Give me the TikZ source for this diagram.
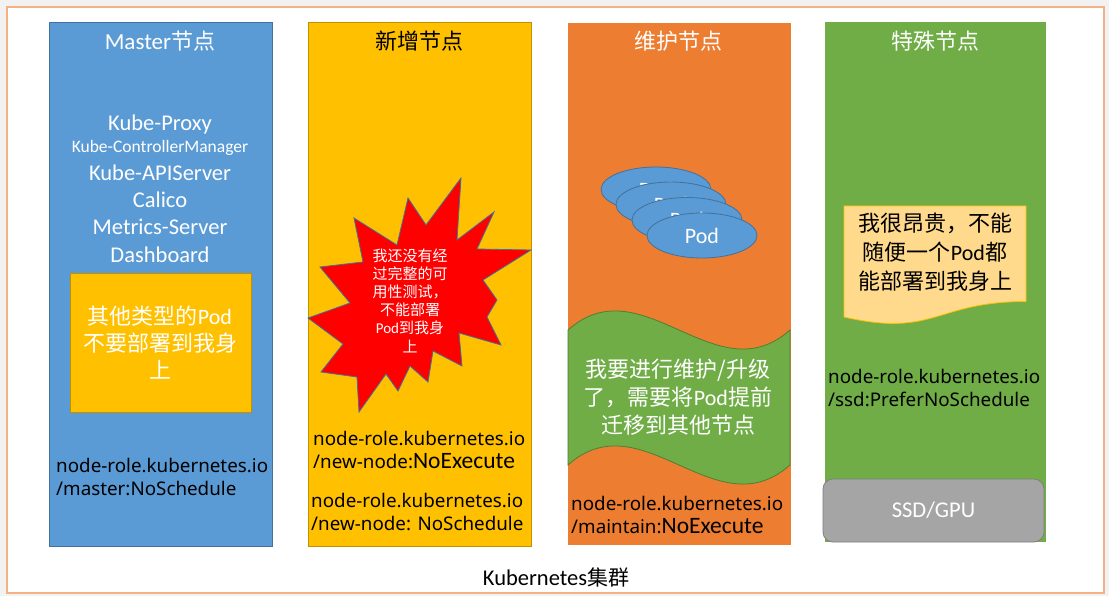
\documentclass[tikz,border=0pt]{standalone}
\usepackage{fontspec}
\usetikzlibrary{shapes.geometric}
\setmainfont{Carlito}
\newfontfamily\cjk{Noto Sans CJK SC}
\newfontfamily\dxf{Noto Sans}
\definecolor{mblue}{HTML}{5B9BD5}
\definecolor{mblueb}{HTML}{41719C}
\definecolor{myel}{HTML}{FFC000}
\definecolor{myelb}{HTML}{BF9000}
\definecolor{morg}{HTML}{ED7D31}
\definecolor{mgrn}{HTML}{70AD47}
\definecolor{mgrnb}{HTML}{507E32}
\definecolor{mgray}{HTML}{A5A5A5}
\definecolor{mgrayb}{HTML}{7F7F7F}
\definecolor{mnote}{HTML}{FFD98C}
\definecolor{mframe}{HTML}{F4B183}
\definecolor{mbg}{HTML}{F2F2F2}
\tikzset{
  colbox/.style={line width=0.8pt},
  ttl/.style={inner sep=0pt, font=\cjk\fontsize{22}{26}\selectfont},
  svc/.style={inner sep=0pt, text=white, font=\fontsize{22.5}{26}\selectfont},
  big/.style={inner sep=0pt, align=center, font=\cjk\fontsize{22}{27}\selectfont},
  taint/.style={inner sep=0pt, anchor=west, align=left, text=black, font=\dxf\fontsize{18.8}{23}\selectfont},
}
\newcommand{\calfnt}[1]{{\rmfamily\fontsize{23.5}{23}\selectfont #1}}
\begin{document}
\begin{tikzpicture}[x=1pt,y=-1pt]
\useasboundingbox (0,0) rectangle (1109,596);
\fill[mbg] (0,0) rectangle (1109,596);
\draw[mframe, fill=white, line width=2pt] (7,7) rectangle (1104,593);

% columns
\draw[colbox, fill=mblue, draw=mblueb] (49,22) rectangle (272,546);
\draw[colbox, fill=myel, draw=myelb] (308,22) rectangle (531,546);
\draw[colbox, fill=morg, draw=morg] (568,23) rectangle (790,544);
\draw[colbox, fill=mgrn, draw=mgrn] (825,22) rectangle (1045,541);

% titles
\node[ttl, text=white] (t1) at (160,41) {{\rmfamily\fontsize{23}{26}\selectfont Master}节点};
\node[ttl, text=black] (t2) at (419,41) {新增节点};
\node[ttl, text=white] (t3) at (678,41) {维护节点};
\node[ttl, text=white] (t4) at (935,41) {特殊节点};

% master services
\node[svc] (s1) at (160,125) {Kube-Proxy};
\node[svc, font=\fontsize{17.5}{20}\selectfont] (s2) at (160,148) {Kube-ControllerManager};
\node[svc] (s3) at (160,173) {Kube-APIServer};
\node[svc] (s4) at (160,200) {Calico};
\node[svc] (s5) at (160,227) {Metrics-Server};
\node[svc] (s6) at (160,255) {Dashboard};

\draw[colbox, fill=myel, draw=myelb] (70,273) rectangle (251,412);
\node[big, text=white] (mb) at (160,343) {其他类型的{\rmfamily Pod}\\不要部署到我身\\上};

\node[taint] (m1) at (56,476.5) {node-role.kubernetes.io\\/master:NoSchedule};

% starburst
\draw[fill=red, draw=mblueb, line width=0.8pt]
 (461,178) -- (457,240) -- (494,212) -- (477,249) -- (531,250) -- (483,280)
 -- (497,300) -- (487,317) -- (501,345) -- (459,333) -- (462,366) -- (433,351)
 -- (428,382) -- (410,366) -- (398,391) -- (386,374) -- (359,412) -- (357,377)
 -- (321,372) -- (343,344) -- (308,318) -- (350,303) -- (320,267) -- (363,262)
 -- (354,218) -- (397,245) -- (408,198) -- (426,225) -- cycle;
\node[inner sep=0pt, align=center, text=white, font=\cjk\fontsize{15}{18.2}\selectfont] (sb) at (410,300.5)
 {我还没有经\\过完整的可\\用性测试，\\不能部署\\{\rmfamily Pod}到我身\\上};

\node[taint] (n1) at (313,450) {node-role.kubernetes.io\\/new-node:\calfnt{NoExecute}};
\node[taint] (n2) at (311,511.5) {node-role.kubernetes.io\\/new-node: NoSchedule};

% pods
\foreach \i/\cx/\cy in {1/656/189.5, 2/671/204.5, 3/687/220, 4/702/235.5}{
  \node[ellipse, minimum width=110pt, minimum height=45pt, inner sep=0pt, fill=mblue, draw=mblueb, line width=0.8pt,
        text=white, font=\fontsize{22}{26}\selectfont] (pod\i) at (\cx,\cy) {Pod};
}

% wave
\draw[fill=mgrn, draw=mgrnb, line width=0.8pt]
 (568,330) .. controls (642,264) and (716,396) .. (790,330)
 -- (790,465) .. controls (716,531) and (642,399) .. (568,465) -- cycle;
\node[big, text=white, font=\cjk\fontsize{22}{28}\selectfont] (wv) at (678,397) {我要进行维护/升级\\了，需要将{\rmfamily Pod}提前\\迁移到其他节点};

\node[taint] (w1) at (571,515) {node-role.kubernetes.io\\/maintain:\calfnt{NoExecute}};

% note
\draw[fill=mnote, draw=myel, line width=0.8pt]
 (844,206) -- (1026,206) -- (1026,301.5) .. controls (935,301.5) and (935,337.8) .. (844,317) -- cycle;
\node[big, text=black, font=\cjk\fontsize{22}{29}\selectfont] (nt) at (935,252) {我很昂贵，不能\\随便一个{\rmfamily Pod}都\\能部署到我身上};

\node[taint] (p1) at (828,387.5) {node-role.kubernetes.io\\/ssd:PreferNoSchedule};

\node[draw=mgrayb, fill=mgray, line width=0.8pt, rounded corners=10pt, minimum width=221pt, minimum height=63pt,
      inner sep=0pt, text=white, font=\fontsize{22.5}{26}\selectfont] (ssd) at (933.5,510.5) {SSD/GPU};

\node[inner sep=0pt, font=\fontsize{22.5}{24}\selectfont] (cl) at (556,577) {Kubernetes{\cjk\fontsize{21}{24}\selectfont 集群}};
\end{tikzpicture}
\end{document}
